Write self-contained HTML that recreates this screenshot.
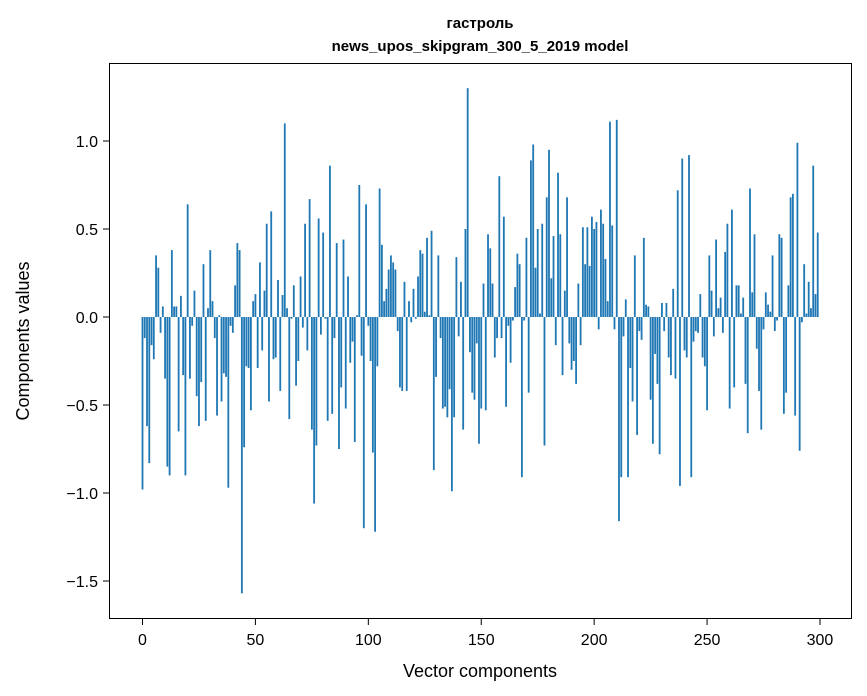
<!DOCTYPE html>
<html><head><meta charset="utf-8"><style>
body{margin:0;background:#fff;}
svg{display:block;font-family:"Liberation Sans","DejaVu Sans",sans-serif;}
</style></head><body>
<svg id="chart" width="867" height="696" viewBox="0 0 867 696">
<rect width="867" height="696" fill="#fff"/>
<text x="480" y="28" text-anchor="middle" font-size="15" font-weight="bold">гастроль</text>
<text x="480" y="51" text-anchor="middle" font-size="15" font-weight="bold">news_upos_skipgram_300_5_2019 model</text>
<g id="bars"></g>
<g id="axes"></g>
<rect x="109.5" y="63.5" width="742" height="555" fill="none" stroke="#000" stroke-width="1"/>
<text x="480" y="677" text-anchor="middle" font-size="18">Vector components</text>
<text transform="translate(29,341) rotate(-90)" text-anchor="middle" font-size="18">Components values</text>
</svg>
<script>
const values = [
-0.98,-0.12,-0.62,-0.83,-0.16,-0.24,0.35,0.28,-0.09,0.06,
-0.35,-0.85,-0.90,0.38,0.06,0.06,-0.65,0.12,-0.33,-0.90,
0.64,-0.35,-0.05,0.15,-0.45,-0.62,-0.37,0.30,-0.59,0.05,
0.38,0.09,-0.12,-0.56,0.01,-0.48,-0.32,-0.34,-0.97,-0.05,
-0.09,0.18,0.42,0.38,-1.57,-0.74,-0.28,-0.29,-0.53,0.09,
0.13,-0.29,0.31,-0.19,0.15,0.53,-0.48,0.60,-0.24,-0.23,
0.21,-0.42,0.125,1.10,0.05,-0.58,-0.01,0.18,-0.39,-0.25,
0.23,-0.06,0.53,-0.19,0.67,-0.64,-1.06,-0.73,0.56,-0.10,
0.48,-0.01,-0.59,0.86,-0.55,-0.12,0.42,-0.75,-0.40,0.44,
-0.52,0.23,-0.26,-0.14,-0.71,0.01,0.75,-0.22,-1.20,0.64,
-0.05,-0.25,-0.77,-1.22,-0.28,0.73,0.41,0.09,0.16,0.27,
0.35,0.31,0.27,-0.08,-0.40,-0.42,0.20,-0.42,0.09,-0.03,
0.16,-0.01,0.23,0.38,0.36,0.03,0.45,0.01,0.49,-0.87,
-0.34,0.35,-0.12,-0.52,-0.51,-0.57,-0.41,-0.99,-0.57,0.34,
-0.11,0.20,-0.64,0.50,1.30,-0.20,-0.43,-0.47,-0.15,-0.72,
-0.52,0.19,-0.53,0.47,0.39,0.19,-0.23,-0.12,0.80,-0.12,
0.57,-0.51,-0.05,-0.26,-0.02,0.17,0.36,0.30,-0.91,-0.02,
0.45,-0.43,0.89,0.98,0.28,0.50,0.02,0.53,-0.73,0.68,
0.95,0.22,0.46,-0.16,0.82,0.47,-0.33,0.15,0.68,-0.15,
-0.30,-0.25,-0.38,0.19,-0.16,0.51,0.30,0.51,0.29,0.57,
0.50,0.54,-0.07,0.61,0.53,0.33,0.09,1.11,0.52,-0.07,
1.12,-1.16,-0.91,-0.11,0.10,-0.91,-0.29,-0.48,0.35,-0.67,
-0.08,-0.13,0.45,0.07,0.06,-0.47,-0.72,-0.21,-0.38,-0.78,
0.08,-0.08,0.08,-0.23,-0.33,0.16,-0.35,0.72,-0.96,0.90,
-0.19,-0.23,0.92,-0.91,-0.14,-0.08,-0.09,0.13,-0.23,-0.28,
-0.53,0.35,0.15,-0.11,0.44,0.05,0.11,-0.09,0.37,0.53,
-0.52,0.61,-0.40,0.18,0.18,0.02,0.11,-0.38,-0.66,0.73,
0.14,0.47,-0.18,-0.42,-0.64,-0.07,0.14,0.07,0.03,0.35,
-0.08,-0.02,0.47,0.45,-0.55,-0.43,0.18,0.68,0.70,-0.56,
0.99,-0.76,-0.03,0.30,0.02,0.20,0.05,0.86,0.13,0.48
];
const xTicks = [0,50,100,150,200,250,300];
const yTicks = [-1.5,-1.0,-0.5,0.0,0.5,1.0];
const yTickLabels = ["\u22121.5","\u22121.0","\u22120.5","0.0","0.5","1.0"];

const NS = "http://www.w3.org/2000/svg";
const X0 = 142.5, XS = 2.2583, Y0 = 317, YS = 176;
function xScale(v){ return X0 + v*XS; }
function yScale(v){ return Y0 - v*YS; }

const barsG = document.getElementById('bars');
values.forEach((v,i)=>{
  const r = document.createElementNS(NS,'rect');
  
  
  const x = xScale(i - 0.4), w = 0.8*XS;
  const y1 = yScale(Math.max(v,0)), y2 = yScale(Math.min(v,0));
  r.setAttribute('x', x); r.setAttribute('width', w);
  r.setAttribute('y', y1); r.setAttribute('height', Math.max(y2-y1,0.01));
  r.setAttribute('fill', '#1f77b4');
  barsG.appendChild(r);
});

const axesG = document.getElementById('axes');
xTicks.forEach(t=>{
  const x = xScale(t);
  const l = document.createElementNS(NS,'line');
  
  
  l.setAttribute('x1',x); l.setAttribute('x2',x); l.setAttribute('y1',618.5); l.setAttribute('y2',625);
  l.setAttribute('stroke','#000');
  axesG.appendChild(l);
  const tx = document.createElementNS(NS,'text');
  
  
  tx.setAttribute('x',x); tx.setAttribute('y',645);
  tx.setAttribute('text-anchor','middle'); tx.setAttribute('font-size','16');
  tx.textContent = t;
  axesG.appendChild(tx);
});
yTicks.forEach((t,i)=>{
  const y = yScale(t);
  const l = document.createElementNS(NS,'line');
  
  
  l.setAttribute('x1',103); l.setAttribute('x2',109.5); l.setAttribute('y1',y); l.setAttribute('y2',y);
  l.setAttribute('stroke','#000');
  axesG.appendChild(l);
  const tx = document.createElementNS(NS,'text');
  
  
  tx.setAttribute('x',98); tx.setAttribute('y',y+6);
  tx.setAttribute('text-anchor','end'); tx.setAttribute('font-size','16');
  tx.textContent = yTickLabels[i];
  axesG.appendChild(tx);
});
</script>
</body></html>
